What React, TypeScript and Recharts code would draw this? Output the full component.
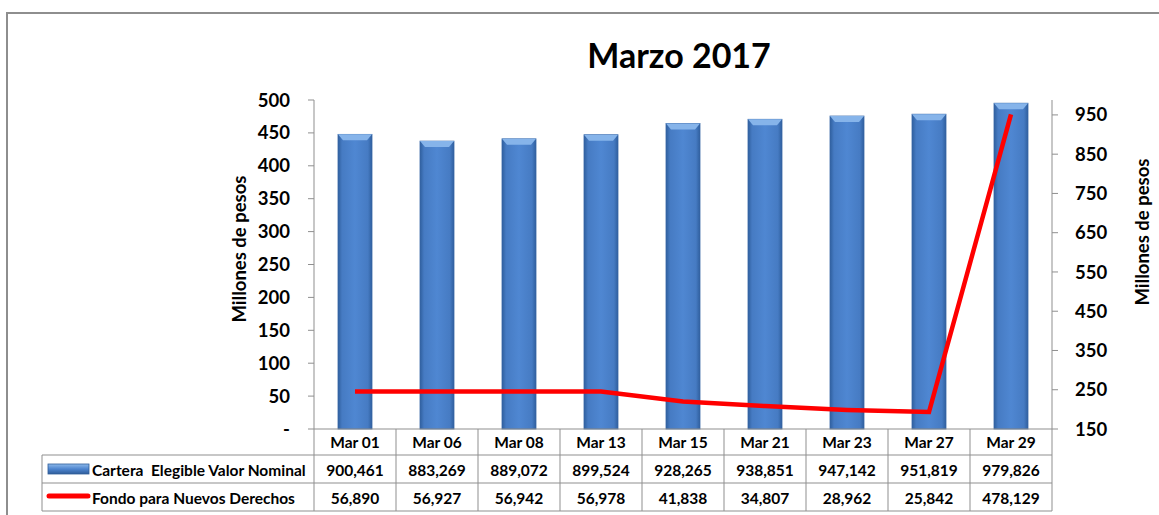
import React from 'react';
import { ComposedChart, Bar, Line, XAxis, YAxis } from 'recharts';

const dates = ['Mar 01', 'Mar 06', 'Mar 08', 'Mar 13', 'Mar 15', 'Mar 21', 'Mar 23', 'Mar 27', 'Mar 29'];
const cartera = [900461, 883269, 889072, 899524, 928265, 938851, 947142, 951819, 979826];
const fondo = [56890, 56927, 56942, 56978, 41838, 34807, 28962, 25842, 478129];
const leftTicks = [0, 50, 100, 150, 200, 250, 300, 350, 400, 450, 500];
const rightTicks = [150, 250, 350, 450, 550, 650, 750, 850, 950];

const data = dates.map((d, i) => ({
  date: d,
  cartera: cartera[i] / 1000,
  fondo: fondo[i] / 1000,
}));

const FONT = 'Lato, "Open Sans", sans-serif';
const GRID = '#8f8f8f';
const COL_W = 82;
const fmt = (v: number) => v.toLocaleString('en-US');

function BevelBar(props: any) {
  const { x, y, width, height } = props;
  if (!height || height <= 0) return null;
  const b = 5;
  return (
    <g>
      <rect x={x} y={y} width={width} height={height} fill="url(#barGrad)" stroke="#3867a6" strokeWidth={0.8} />
      <polygon
        points={`${x},${y} ${x + width},${y} ${x + width - b},${y + b + 1} ${x + b},${y + b + 1}`}
        fill="#86b4ea"
      />
    </g>
  );
}

function TableTick(props: any) {
  const { x, y, payload, index } = props;
  const i = index ?? 0;
  const l = x - COL_W / 2;
  const r = x + COL_W / 2;
  const txt = { fontFamily: FONT, fontWeight: 700, fontSize: 15.5, fill: '#000' };
  return (
    <g>
      <line x1={r} y1={y} x2={r} y2={y + 82} stroke={GRID} />
      {i === 0 && <line x1={l} y1={y} x2={l} y2={y + 82} stroke={GRID} />}
      <line x1={l} y1={y + 26} x2={r} y2={y + 26} stroke={GRID} />
      <line x1={l} y1={y + 54} x2={r} y2={y + 54} stroke={GRID} />
      <line x1={l} y1={y + 82} x2={r} y2={y + 82} stroke={GRID} />
      <text x={x} y={y + 18.5} textAnchor="middle" {...txt}>{payload.value}</text>
      <text x={x} y={y + 46.5} textAnchor="middle" {...txt}>{fmt(cartera[i])}</text>
      <text x={x} y={y + 74.5} textAnchor="middle" {...txt}>{fmt(fondo[i])}</text>
      {i === 0 && (
        <g>
          <line x1={42} y1={y + 26} x2={l} y2={y + 26} stroke={GRID} />
          <line x1={42} y1={y + 54} x2={l} y2={y + 54} stroke={GRID} />
          <line x1={42} y1={y + 82} x2={l} y2={y + 82} stroke={GRID} />
          <line x1={42} y1={y + 26} x2={42} y2={y + 82} stroke={GRID} />
          <rect x={48} y={y + 35} width={41} height={10} fill="url(#legGrad)" stroke="#2f5d99" strokeWidth={0.8} />
          <line x1={49} y1={y + 67} x2={88} y2={y + 67} stroke="#ff0000" strokeWidth={5} strokeLinecap="round" />
          <text x={92} y={y + 46.5} {...txt} style={{ whiteSpace: 'pre' }}>Cartera  Elegible Valor Nominal</text>
          <text x={92} y={y + 74.5} {...txt}>Fondo para Nuevos Derechos</text>
        </g>
      )}
    </g>
  );
}

export default function App() {
  const axisTick = { fontFamily: FONT, fontWeight: 700, fontSize: 18.5, fill: '#000' };
  return (
    <div style={{ position: 'absolute', left: 0, top: 0, width: 1159, height: 515, background: '#fff', overflow: 'hidden' }}>
      <svg width={0} height={0} style={{ position: 'absolute' }}>
        <defs>
          <linearGradient id="barGrad" x1="0" y1="0" x2="1" y2="0">
            <stop offset="0%" stopColor="#2f5f9e" />
            <stop offset="12%" stopColor="#467bc3" />
            <stop offset="50%" stopColor="#4f87d2" />
            <stop offset="88%" stopColor="#467bc3" />
            <stop offset="100%" stopColor="#2f5f9e" />
          </linearGradient>
          <linearGradient id="legGrad" x1="0" y1="0" x2="0" y2="1">
            <stop offset="0%" stopColor="#8db9ea" />
            <stop offset="50%" stopColor="#4d84cf" />
            <stop offset="100%" stopColor="#2f5d99" />
          </linearGradient>
        </defs>
      </svg>
      <div style={{ position: 'absolute', left: 6, top: 12, width: 1200, height: 600, borderTop: '2px solid #8e8e8e', borderLeft: '2px solid #8e8e8e' }} />
      <ComposedChart
        width={1159}
        height={515}
        data={data}
        margin={{ top: 100, right: 37, bottom: 4, left: 234 }}
        style={{ position: 'absolute', left: 0, top: 0 }}
      >
        <XAxis
          dataKey="date"
          interval={0}
          tickLine={false}
          tickSize={0}
          tickMargin={0}
          height={82}
          axisLine={{ stroke: GRID }}
          tick={(p: any) => <TableTick {...p} />}
        />
        <YAxis
          yAxisId="left"
          orientation="left"
          width={80}
          domain={[0, 500]}
          ticks={leftTicks}
          interval={0}
          tickSize={6}
          tickMargin={18}
          tick={axisTick}
          tickLine={{ stroke: GRID }}
          axisLine={{ stroke: GRID }}
          tickFormatter={(v: number) => (v === 0 ? '-' : String(v))}
        />
        <YAxis
          yAxisId="right"
          orientation="right"
          width={70}
          domain={[150, 988]}
          ticks={rightTicks}
          interval={0}
          tickSize={6}
          tickMargin={17}
          tick={axisTick}
          tickLine={{ stroke: GRID }}
          axisLine={{ stroke: GRID }}
        />
        <Bar yAxisId="right" dataKey="cartera" barSize={34} shape={(p: any) => <BevelBar {...p} />} isAnimationActive={false} />
        <Line yAxisId="left" type="linear" dataKey="fondo" stroke="#ff0000" strokeWidth={4.5} dot={false} activeDot={false} isAnimationActive={false} />
      </ComposedChart>
      <svg width={1159} height={515} style={{ position: 'absolute', left: 0, top: 0, pointerEvents: 'none' }}>
        <text x={679} y={68} textAnchor="middle" fontFamily={FONT} fontWeight={700} fontSize={34} fill="#000">Marzo 2017</text>
        <text transform="translate(246,249) rotate(-90)" textAnchor="middle" fontFamily={FONT} fontWeight={700} fontSize={18.5} fill="#000">Millones de pesos</text>
        <text transform="translate(1149,232) rotate(-90)" textAnchor="middle" fontFamily={FONT} fontWeight={700} fontSize={18.5} fill="#000">Millones de pesos</text>
      </svg>
    </div>
  );
}
